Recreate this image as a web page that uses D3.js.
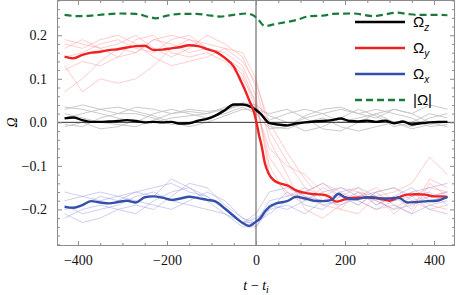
<!DOCTYPE html>
<html>
<head>
<meta charset="utf-8">
<script src="https://cdn.jsdelivr.net/npm/d3@7"></script>
<style>
  body { margin: 0; background: #fff; }
  svg { display: block; }
  .serif { font-family: "Liberation Serif", "Times New Roman", "DejaVu Serif", serif; }
</style>
</head>
<body>
<script>
const w = 457;
const h = 295;

// main (averaged) series: times and values
var zT = [-430,-410,-390,-370,-350,-330,-310,-290,-270,-250,-230,-210,-190,-170,-150,-130,-110,-90,-70,-50,-30,-10,10,30,50,70,90,110,130,150,170,190,210,230,250,270,290,310,330,350,370,390,410,430];
var zV = [0.009,0.011,0.005,0.001,0.001,0.002,0.003,0.005,0.003,0.000,0.001,0.000,0.001,-0.003,-0.002,0.004,0.008,0.016,0.028,0.041,0.041,0.035,0.020,-0.002,-0.005,-0.007,-0.003,0.000,0.002,0.003,0.005,0.009,0.003,0.002,0.004,0.001,0.004,-0.002,0.002,-0.005,-0.002,0.000,0.001,0.001];

var yT = [-430,-410,-390,-370,-350,-330,-310,-290,-270,-250,-230,-210,-190,-170,-150,-130,-110,-90,-70,-50,-35,-25,-15,-5,0,7,13,20,28,40,60,70,90,110,130,150,165,180,200,220,240,260,280,300,320,340,360,380,400,420,430];
var yV = [0.151,0.147,0.155,0.160,0.162,0.166,0.168,0.172,0.175,0.176,0.166,0.167,0.170,0.173,0.177,0.175,0.168,0.162,0.148,0.128,0.097,0.075,0.050,0.025,0.005,-0.030,-0.056,-0.094,-0.117,-0.133,-0.142,-0.145,-0.156,-0.162,-0.165,-0.166,-0.171,-0.182,-0.177,-0.173,-0.173,-0.172,-0.176,-0.180,-0.172,-0.166,-0.165,-0.166,-0.170,-0.170,-0.172];

var xT = [-430,-410,-390,-370,-350,-330,-310,-290,-270,-250,-230,-210,-190,-170,-150,-130,-110,-90,-70,-50,-30,-15,0,10,20,30,46,70,90,110,130,150,170,185,200,220,250,270,295,320,340,360,385,405,430];
var xV = [-0.194,-0.196,-0.190,-0.181,-0.184,-0.186,-0.183,-0.180,-0.184,-0.172,-0.170,-0.173,-0.178,-0.175,-0.171,-0.174,-0.178,-0.182,-0.198,-0.215,-0.231,-0.238,-0.228,-0.220,-0.205,-0.194,-0.186,-0.181,-0.171,-0.175,-0.180,-0.181,-0.178,-0.164,-0.172,-0.177,-0.172,-0.174,-0.175,-0.173,-0.184,-0.183,-0.181,-0.180,-0.171];

var mT = [-430,-400,-370,-340,-305,-270,-240,-225,-200,-170,-134,-100,-80,-50,-20,-5,5,20,40,61,91,121,150,173,218,264,290,316,340,361,400,430];
var mV = [0.247,0.244,0.245,0.248,0.250,0.249,0.242,0.239,0.245,0.249,0.249,0.245,0.243,0.247,0.250,0.245,0.236,0.221,0.225,0.229,0.235,0.244,0.245,0.249,0.250,0.244,0.248,0.252,0.249,0.247,0.247,0.246];

// individual (faint) traces
var traceT = [-430,-390,-350,-310,-270,-230,-190,-150,-110,-70,-30,0,30,70,110,150,190,230,270,310,350,390,430];

var redTraces = [
  [0.19,0.18,0.17,0.15,0.16,0.19,0.20,0.19,0.17,0.15,0.12,0.04,-0.08,-0.14,-0.17,-0.19,-0.20,-0.16,-0.18,-0.20,-0.17,-0.15,-0.16],
  [0.07,0.10,0.14,0.17,0.16,0.19,0.18,0.16,0.17,0.16,0.13,0.06,-0.12,-0.16,-0.18,-0.15,-0.17,-0.19,-0.16,-0.15,-0.18,-0.20,-0.19],
  [0.13,0.07,0.10,0.09,0.10,0.13,0.17,0.19,0.18,0.17,0.14,0.09,0.00,-0.07,-0.13,-0.18,-0.17,-0.15,-0.19,-0.17,-0.20,-0.13,-0.15],
  [0.17,0.19,0.17,0.18,0.20,0.17,0.15,0.17,0.20,0.18,0.15,0.08,-0.04,-0.12,-0.20,-0.22,-0.19,-0.17,-0.15,-0.18,-0.16,-0.19,-0.20],
  [0.15,0.16,0.18,0.19,0.17,0.16,0.19,0.20,0.17,0.15,0.11,0.03,-0.06,-0.10,-0.12,-0.16,-0.20,-0.21,-0.17,-0.16,-0.14,-0.08,-0.12],
  [0.12,0.14,0.13,0.15,0.19,0.20,0.16,0.15,0.16,0.14,0.10,0.05,-0.10,-0.17,-0.16,-0.14,-0.16,-0.18,-0.20,-0.19,-0.21,-0.14,-0.17],
  [0.18,0.17,0.19,0.20,0.18,0.15,0.13,0.14,0.15,0.17,0.16,0.10,-0.02,-0.09,-0.15,-0.17,-0.15,-0.16,-0.17,-0.21,-0.18,-0.17,-0.16]
];

var grayTraces = [
  [0.030,0.040,0.030,0.020,0.035,0.030,0.020,0.025,0.020,0.030,0.040,0.030,0.000,-0.010,0.010,0.020,0.030,0.020,0.010,0.030,0.020,0.040,0.030],
  [-0.010,0.000,-0.015,-0.010,0.005,0.000,0.010,0.015,0.020,0.035,0.040,0.035,-0.010,-0.015,0.000,0.010,-0.010,-0.020,-0.010,0.000,-0.015,-0.005,0.000],
  [0.020,0.010,0.000,-0.005,-0.010,0.005,0.020,0.030,0.025,0.030,0.040,0.030,0.005,0.020,0.030,0.020,0.000,0.010,0.020,0.000,-0.010,0.010,0.020],
  [0.035,0.030,0.020,0.010,0.000,0.020,0.030,0.020,0.010,0.020,0.035,0.020,-0.015,-0.010,0.015,0.030,0.035,0.020,0.030,0.020,0.010,-0.010,-0.005],
  [-0.005,-0.010,0.010,0.020,0.020,0.010,-0.005,0.000,0.010,0.025,0.045,0.040,0.015,0.000,-0.020,-0.010,0.010,0.030,0.015,-0.010,0.000,0.020,0.010],
  [0.010,0.020,0.030,0.035,0.025,0.015,0.000,-0.010,0.000,0.015,0.030,0.030,0.020,0.030,0.010,-0.015,-0.020,0.000,0.020,0.030,0.020,0.000,-0.010]
];

var blueTraces = [
  [-0.16,-0.17,-0.18,-0.17,-0.16,-0.15,-0.14,-0.16,-0.17,-0.20,-0.23,-0.23,-0.18,-0.17,-0.15,-0.19,-0.18,-0.16,-0.19,-0.17,-0.15,-0.18,-0.17],
  [-0.22,-0.20,-0.19,-0.20,-0.21,-0.18,-0.16,-0.15,-0.18,-0.21,-0.24,-0.24,-0.20,-0.16,-0.19,-0.20,-0.17,-0.19,-0.16,-0.19,-0.21,-0.19,-0.18],
  [-0.21,-0.23,-0.22,-0.20,-0.19,-0.20,-0.17,-0.14,-0.15,-0.19,-0.22,-0.23,-0.21,-0.18,-0.16,-0.14,-0.17,-0.18,-0.20,-0.18,-0.17,-0.16,-0.19],
  [-0.18,-0.17,-0.16,-0.17,-0.18,-0.19,-0.20,-0.18,-0.16,-0.18,-0.22,-0.24,-0.19,-0.20,-0.18,-0.16,-0.15,-0.17,-0.18,-0.20,-0.19,-0.17,-0.16],
  [-0.20,-0.19,-0.17,-0.18,-0.16,-0.17,-0.13,-0.15,-0.17,-0.20,-0.23,-0.21,-0.16,-0.15,-0.17,-0.18,-0.19,-0.17,-0.16,-0.15,-0.17,-0.20,-0.21],
  [-0.19,-0.21,-0.20,-0.19,-0.17,-0.16,-0.18,-0.19,-0.20,-0.21,-0.23,-0.22,-0.20,-0.19,-0.21,-0.18,-0.16,-0.15,-0.17,-0.18,-0.16,-0.15,-0.14]
];

var xTicks = [-400, -200, 0, 200, 400];
var yTicks = [-0.2, -0.1, 0.0, 0.1, 0.2];

var legendItems = [
  { name: "Ω", sub: "z", color: "#000000", dash: null },
  { name: "Ω", sub: "y", color: "#ee2222", dash: null },
  { name: "Ω", sub: "x", color: "#3550a8", dash: null },
  { name: "|Ω|", sub: null, color: "#1b7a3a", dash: "7,4" }
];

var margin = { left: 57, right: 2, top: 0, bottom: 49 };

var x = d3.scaleLinear().domain([-447, 447]).range([margin.left, w - margin.right]);
var y = d3.scaleLinear().domain([-0.284, 0.281]).range([h - margin.bottom, margin.top]);

var svg = d3.select("body").append("svg")
  .attr("width", w)
  .attr("height", h);

var line = d3.line()
  .x(function(d) { return x(d[0]); })
  .y(function(d) { return y(d[1]); })
  .curve(d3.curveMonotoneX);

var jagged = d3.line()
  .x(function(d) { return x(d[0]); })
  .y(function(d) { return y(d[1]); });

function pairs(ts, vs) {
  return ts.map(function(t, i) { return [t, vs[i]]; });
}

svg.append("defs").append("clipPath").attr("id", "clip")
  .append("rect")
  .attr("x", margin.left).attr("y", margin.top)
  .attr("width", w - margin.left - margin.right)
  .attr("height", h - margin.top - margin.bottom);

var plot = svg.append("g").attr("clip-path", "url(#clip)");

// faint traces
grayTraces.forEach(function(tr) {
  plot.append("path").attr("d", jagged(pairs(traceT, tr)))
    .attr("fill", "none").attr("stroke", "#c4c4c4").attr("stroke-width", 0.9);
});
redTraces.forEach(function(tr) {
  plot.append("path").attr("d", jagged(pairs(traceT, tr)))
    .attr("fill", "none").attr("stroke", "#ff9a9a").attr("stroke-opacity", 0.55).attr("stroke-width", 0.9);
});
blueTraces.forEach(function(tr) {
  plot.append("path").attr("d", jagged(pairs(traceT, tr)))
    .attr("fill", "none").attr("stroke", "#9c9ce6").attr("stroke-opacity", 0.55).attr("stroke-width", 0.9);
});

// zero lines
plot.append("line")
  .attr("x1", margin.left).attr("x2", w - margin.right)
  .attr("y1", y(0)).attr("y2", y(0))
  .attr("stroke", "#333").attr("stroke-width", 1);
plot.append("line")
  .attr("x1", x(0)).attr("x2", x(0))
  .attr("y1", margin.top).attr("y2", h - margin.bottom)
  .attr("stroke", "#555").attr("stroke-width", 1);

// main series
plot.append("path").attr("d", line(pairs(mT, mV)))
  .attr("fill", "none").attr("stroke", legendItems[3].color).attr("stroke-width", 2.2)
  .attr("stroke-dasharray", legendItems[3].dash);
plot.append("path").attr("d", line(pairs(zT, zV)))
  .attr("fill", "none").attr("stroke", legendItems[0].color).attr("stroke-width", 2.4);
plot.append("path").attr("d", line(pairs(yT, yV)))
  .attr("fill", "none").attr("stroke", legendItems[1].color).attr("stroke-width", 2.4);
plot.append("path").attr("d", line(pairs(xT, xV)))
  .attr("fill", "none").attr("stroke", legendItems[2].color).attr("stroke-width", 2.4);

// frame with ticks on all sides
var frameColor = "#8c8c8c";
var xMinor = d3.range(-400, 401, 50).filter(function(v) { return xTicks.indexOf(v) < 0; });
var yMinor = d3.range(-28, 29, 2).map(function(v) { return v / 100; })
  .filter(function(v) { return Math.abs(Math.round(v * 100) % 10) !== 0; });

function noDomain(g) { g.select(".domain").remove(); }

svg.append("g").attr("transform", "translate(0," + (h - margin.bottom) + ")")
  .call(d3.axisBottom(x).tickValues(xTicks).tickSize(-5).tickFormat(d3.format("d")).tickPadding(9))
  .call(noDomain);
svg.append("g").attr("transform", "translate(0," + (h - margin.bottom) + ")")
  .call(d3.axisBottom(x).tickValues(xMinor).tickSize(-3).tickFormat(""))
  .call(noDomain);
svg.append("g").attr("transform", "translate(0," + margin.top + ")")
  .call(d3.axisTop(x).tickValues(xTicks).tickSize(-5).tickFormat(""))
  .call(noDomain);
svg.append("g").attr("transform", "translate(0," + margin.top + ")")
  .call(d3.axisTop(x).tickValues(xMinor).tickSize(-3).tickFormat(""))
  .call(noDomain);

svg.append("g").attr("transform", "translate(" + margin.left + ",0)")
  .call(d3.axisLeft(y).tickValues(yTicks).tickSize(-5).tickFormat(d3.format(".1f")).tickPadding(10))
  .call(noDomain);
svg.append("g").attr("transform", "translate(" + margin.left + ",0)")
  .call(d3.axisLeft(y).tickValues(yMinor).tickSize(-3).tickFormat(""))
  .call(noDomain);
svg.append("g").attr("transform", "translate(" + (w - margin.right) + ",0)")
  .call(d3.axisRight(y).tickValues(yTicks).tickSize(-5).tickFormat(""))
  .call(noDomain);
svg.append("g").attr("transform", "translate(" + (w - margin.right) + ",0)")
  .call(d3.axisRight(y).tickValues(yMinor).tickSize(-3).tickFormat(""))
  .call(noDomain);

svg.selectAll(".tick line").attr("stroke", frameColor);
svg.selectAll(".tick text")
  .attr("class", "serif")
  .attr("font-family", null)
  .style("font-size", "14px")
  .attr("fill", "#111")
  .text(function() { return d3.select(this).text().replace("-", "\u2212"); });

svg.append("rect")
  .attr("x", margin.left + 0.5).attr("y", margin.top + 0.5)
  .attr("width", w - margin.left - margin.right - 1)
  .attr("height", h - margin.top - margin.bottom - 1)
  .attr("fill", "none").attr("stroke", frameColor).attr("stroke-width", 1);

// axis labels
svg.append("text")
  .attr("class", "serif")
  .attr("transform", "translate(17," + y(0) + ") rotate(-90)")
  .attr("text-anchor", "middle")
  .style("font-style", "italic")
  .style("font-size", "14px")
  .text("Ω");

var xl = svg.append("text")
  .attr("class", "serif")
  .attr("x", x(0)).attr("y", 290)
  .attr("text-anchor", "middle")
  .style("font-style", "italic")
  .style("font-size", "14px");
xl.append("tspan").text("t\u2009\u2212\u2009t");
xl.append("tspan").style("font-size", "10px").attr("dy", 3).text("i");

// legend
var leg = svg.append("g");
legendItems.forEach(function(d, i) {
  var ly = 22 + i * 26;
  leg.append("line")
    .attr("x1", 355).attr("x2", 405).attr("y1", ly).attr("y2", ly)
    .attr("stroke", d.color).attr("stroke-width", 2.4)
    .attr("stroke-dasharray", d.dash);
  var t = leg.append("text")
    .attr("x", 413).attr("y", ly + 5)
    .style("font-family", "'Liberation Sans', Arial, sans-serif")
    .style("font-size", "15px")
    .text(d.name);
  if (d.sub) {
    t.append("tspan").style("font-size", "10px").style("font-style", "italic").attr("dy", 4).text(d.sub);
  }
});
</script>
</body>
</html>
